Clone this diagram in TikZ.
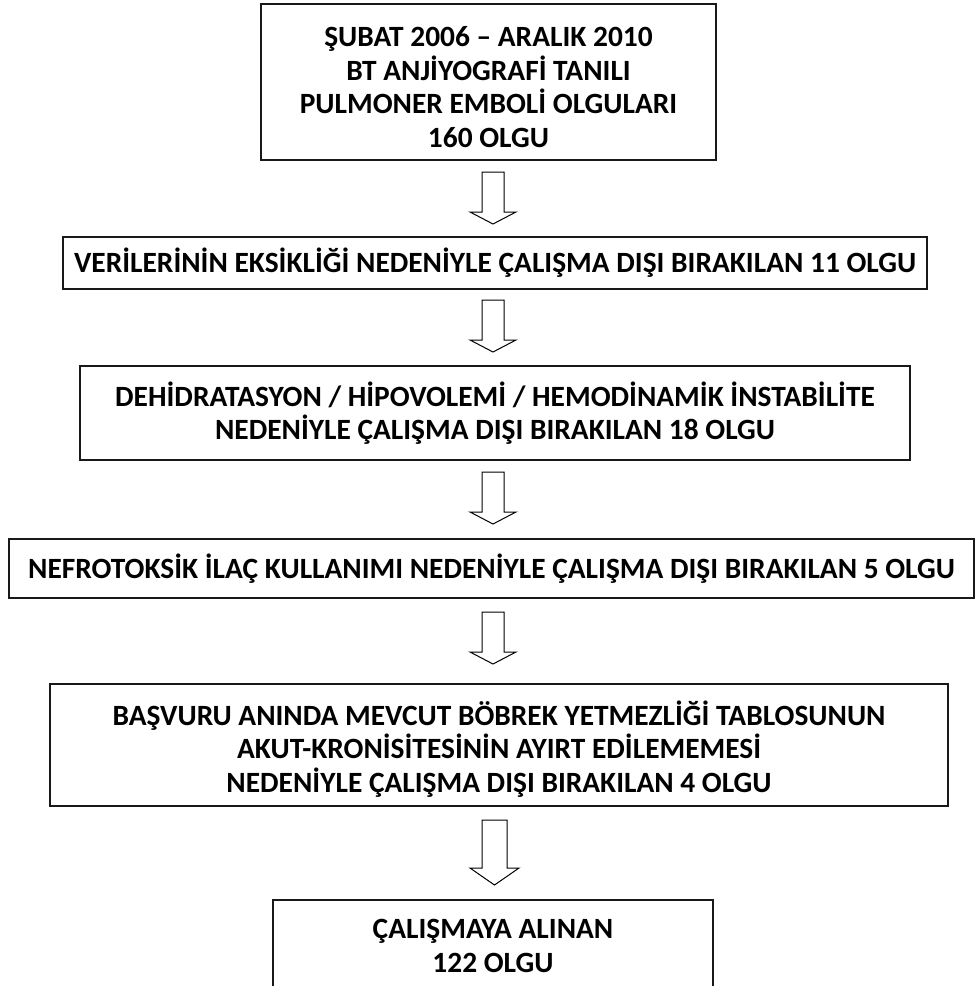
\documentclass[tikz,border=0pt]{standalone}
\usepackage{fontspec}
\setmainfont{Carlito}
\begin{document}
\begin{tikzpicture}[x=1pt,y=-1pt,
  box/.style={draw=black!90, line width=1.5pt, inner sep=0pt},
  txt/.style={align=center, inner sep=0pt, font=\bfseries\fontsize{29.4}{33.5}\selectfont},
  blockarr/.style={draw=black, line width=1pt, fill=white, line join=miter},
  pics/downarr/.style={code={
    \draw[blockarr] (-11,0) -- (-11,40) -- (-23,40) -- (0,52) -- (23,40) -- (11,40) -- (11,0) -- cycle;}}]
\clip (0,0) rectangle (975,986);
\node[box, minimum width=455, minimum height=156] (b1) at (488.5,82) {};
\node[txt, yshift=-5pt] (t1) at (b1)
  {ŞUBAT 2006 – ARALIK 2010\\BT ANJİYOGRAFİ TANILI\\PULMONER EMBOLİ OLGULARI\\160 OLGU};
\node[box, minimum width=864, minimum height=52] (b2) at (495,263) {};
\node[txt] (t2) at (b2)
  {VERİLERİNİN EKSİKLİĞİ NEDENİYLE ÇALIŞMA DIŞI BIRAKILAN 11 OLGU};
\node[box, minimum width=830, minimum height=94] (b3) at (495,413) {};
\node[txt] (t3) at (b3)
  {DEHİDRATASYON / HİPOVOLEMİ / HEMODİNAMİK İNSTABİLİTE\\NEDENİYLE ÇALIŞMA DIŞI BIRAKILAN 18 OLGU};
\node[box, minimum width=965, minimum height=59] (b4) at (491.5,568.5) {};
\node[txt] (t4) at (b4)
  {NEFROTOKSİK İLAÇ KULLANIMI NEDENİYLE ÇALIŞMA DIŞI BIRAKILAN 5 OLGU};
\node[box, minimum width=898, minimum height=122] (b5) at (499,745) {};
\node[txt, yshift=-4pt] (t5) at (b5)
  {BAŞVURU ANINDA MEVCUT BÖBREK YETMEZLİĞİ TABLOSUNUN\\AKUT-KRONİSİTESİNİN AYIRT EDİLEMEMESİ\\NEDENİYLE ÇALIŞMA DIŞI BIRAKILAN 4 OLGU};
\node[box, minimum width=440, minimum height=92, anchor=north] (b6) at (493,899) {};
\node[txt] (t6) at (b6) {ÇALIŞMAYA ALINAN\\122 OLGU};
\coordinate (a1) at (493,172);
\coordinate (a2) at (493,300);
\coordinate (a3) at (493,472);
\coordinate (a4) at (493,612);
\coordinate (a5) at (494.5,820);
\pic at (a1) {downarr};
\pic at (a2) {downarr};
\pic at (a3) {downarr};
\pic at (a4) {downarr};
\draw[blockarr] (a5) ++(-12.5,0) -- ++(0,48) -- ++(-12,0) -- ++(24.5,17) -- ++(24.5,-17) -- ++(-12,0) -- ++(0,-48) -- cycle;
\end{tikzpicture}
\end{document}
